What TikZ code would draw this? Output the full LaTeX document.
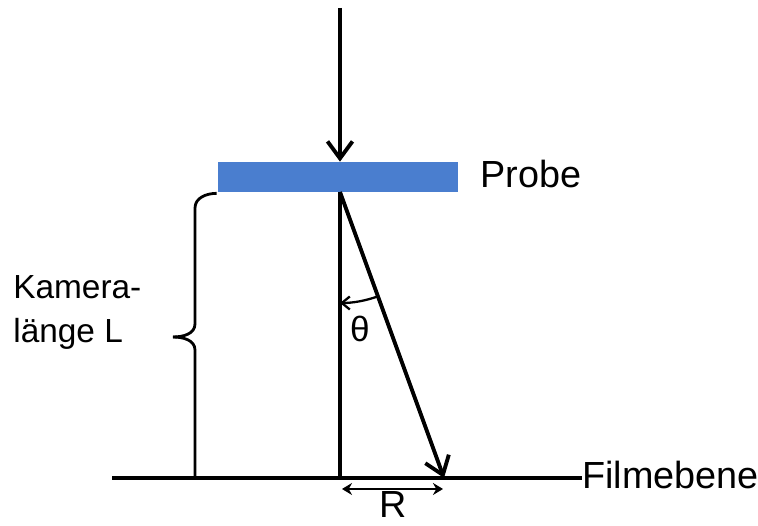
\documentclass[tikz,border=0pt]{standalone}
\usepackage{fontspec}
\setmainfont{Liberation Sans}
\usetikzlibrary{arrows.meta, positioning, calc}
\definecolor{probeblue}{HTML}{4A7ECF}
\definecolor{inkblack}{HTML}{000000}

\begin{document}
\begin{tikzpicture}[
    x=0.02cm, y=-0.02cm,
    >=Stealth,
    every node/.style={inner sep=0pt},
    probebox/.style={
        fill=probeblue, minimum width=4.8cm, minimum height=0.6cm
    },
    beam/.style={line width=2.2pt, inkblack,
        -{Straight Barb[length=3.4mm, width=5mm]}},
    axisline/.style={line width=2.2pt, inkblack},
    filmline/.style={line width=2.2pt, inkblack},
    rarrow/.style={line width=1.5pt, inkblack,
        {Stealth[length=2mm, width=2.4mm]}-{Stealth[length=2mm, width=2.4mm]}},
    anglearc/.style={line width=1.3pt, inkblack,
        -{Straight Barb[length=1.6mm, width=2.6mm]}},
    bracepath/.style={line width=1.6pt, inkblack},
    biglabel/.style={font=\fontsize{21.5}{24}\selectfont, text=inkblack},
    sidelabel/.style={font=\fontsize{19}{25.6}\selectfont, text=inkblack, align=left},
]
\useasboundingbox (0,0) rectangle (758,526);

% ============ sample and film plane ============
\node[probebox] (probe) at (338,177) {};
\node[biglabel, anchor=base west] (probetxt) at (480,188) {Probe};

\coordinate (film0) at (112,478);
\node[biglabel, anchor=base west] (filmtxt) at (582,489) {Filmebene};
\draw[filmline] (film0) -- (film0 -| filmtxt.west);

% ============ beams ============
\coordinate (src) at (340,8);
\coordinate (hit) at (340,192);
\coordinate (spot) at (444,478);
\draw[beam] (src) -- (src |- probe.north);
\draw[axisline] (hit) -- (hit |- film0);
\draw[beam] (hit) -- (spot);

% Angle
\draw[anglearc] (hit) ++(70:111) arc[start angle=70, end angle=90, radius=111];
\node[biglabel, font=\fontsize{20}{22}\selectfont] (theta) at (360,329) {θ};

% Distance R on the film
\draw[rarrow] ($(hit |- film0)+(2,11)$) -- ($(spot)+(-1,11)$);
\node[biglabel, anchor=base] (rtxt) at (393,518) {R};

% ============ camera length brace ============
\coordinate (bracetip) at (173,337);
\coordinate (bracefoot) at (195,478);
\draw[bracepath] ($(probe.south west)+(-1,1)$) to[out=180, in=90] (195,208)
    -- (195,324) to[out=270, in=0] (bracetip);
\draw[bracepath] (bracetip) to[out=0, in=90] (195,350) -- (bracefoot);
\node[sidelabel, anchor=base west] (kamera) at (13,343) {Kamera-\\länge L};

\end{tikzpicture}
\end{document}
